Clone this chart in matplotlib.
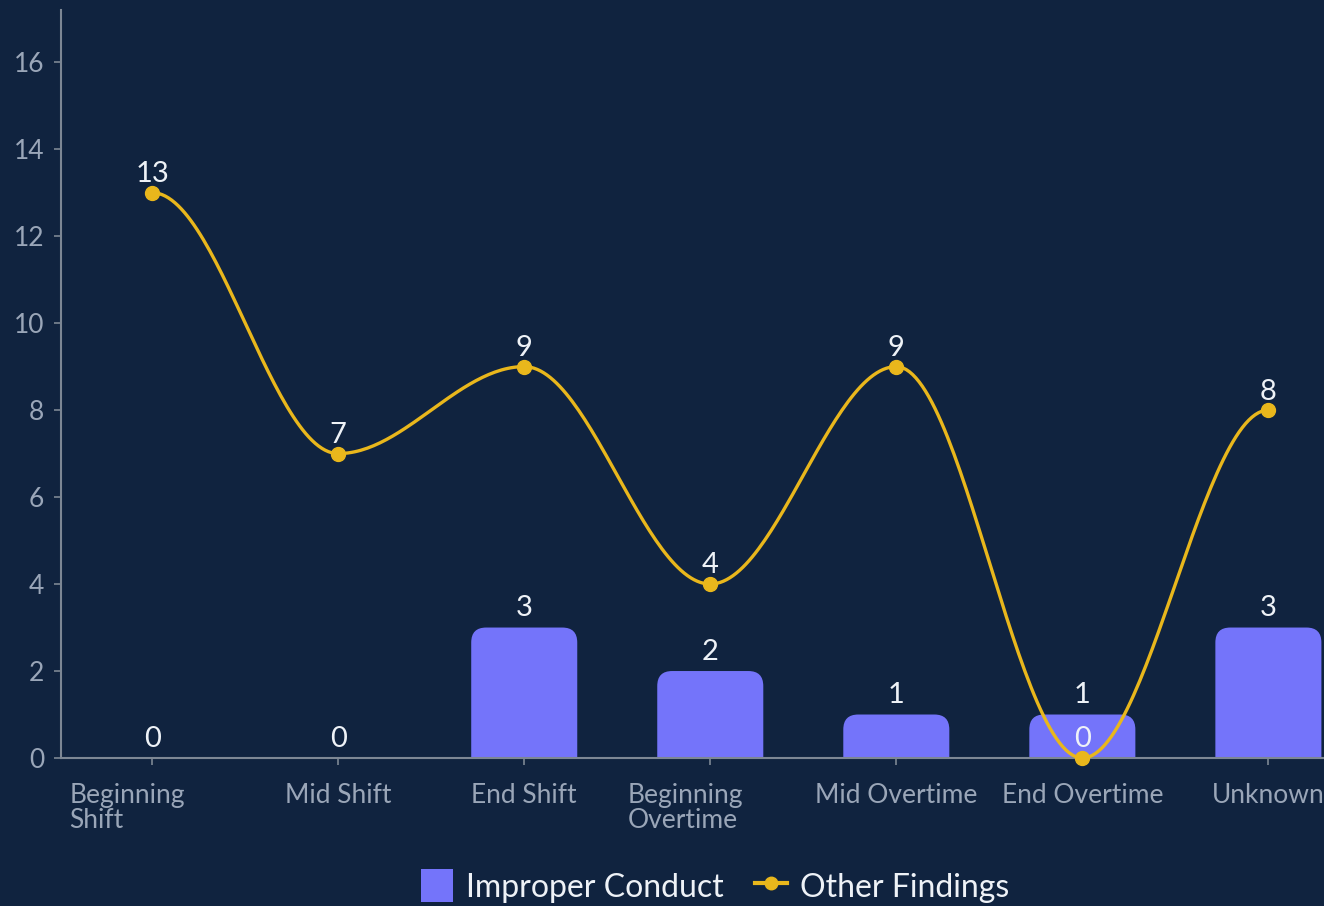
import numpy as np
import matplotlib

matplotlib.use("Agg")
import matplotlib.pyplot as plt
from matplotlib.patches import FancyBboxPatch, Patch
from matplotlib.lines import Line2D
from matplotlib.transforms import ScaledTranslation


CATEGORIES = ["Beginning\nShift", "Mid Shift", "End Shift", "Beginning\nOvertime",
              "Mid Overtime", "End Overtime", "Unknown"]
IMPROPER_CONDUCT = [0, 0, 3, 2, 1, 1, 3]
OTHER_FINDINGS = [13, 7, 9, 4, 9, 0, 8]
Y_TICKS = [0, 2, 4, 6, 8, 10, 12, 14, 16]

BG = "#10233f"
BAR_COLOR = "#7474fa"
LINE_COLOR = "#e9b71c"
AXIS_COLOR = "#7d8794"
TICK_TEXT = "#9aa6b8"
LABEL_TEXT = "#eef2f7"
FONT = "Lato"

FONT_TICKS = 19
FONT_VALUES = 21
FONT_LEGEND = 23


def smooth_path(xs, ys, steps=60):
    # cubic bezier per segment with flat tangents at every point
    out_x, out_y = [], []
    t = np.linspace(0, 1, steps)
    for i in range(len(xs) - 1):
        x0, x1 = xs[i], xs[i + 1]
        y0, y1 = ys[i], ys[i + 1]
        c = (x1 - x0) * 0.35
        px = [x0, x0 + c, x1 - c, x1]
        py = [y0, y0, y1, y1]
        b = [(1 - t) ** 3, 3 * (1 - t) ** 2 * t, 3 * (1 - t) * t ** 2, t ** 3]
        out_x.extend(sum(b[k] * px[k] for k in range(4)))
        out_y.extend(sum(b[k] * py[k] for k in range(4)))
    return np.array(out_x), np.array(out_y)


def main():
    fig = plt.figure(figsize=(13.24, 9.06), dpi=100, facecolor=BG)
    ax = fig.add_axes([61 / 1324, 148 / 906, 1319 / 1324, 748 / 906])
    ax.set_facecolor(BG)

    x = np.arange(len(CATEGORIES))
    ax.set_xlim(-0.49, 6.6)
    ax.set_ylim(0, 17.2)

    # rounded bars, bottom part hidden below the axis
    bar_w = 0.57
    r_x = 0.08
    aspect = (15 / 43.5) / r_x
    for xi, v in zip(x, IMPROPER_CONDUCT):
        if v <= 0:
            continue
        patch = FancyBboxPatch(
            (xi - bar_w / 2, -1.0), bar_w, v + 1.0,
            boxstyle=f"round,pad=0,rounding_size={r_x}",
            mutation_aspect=aspect,
            facecolor=BAR_COLOR, edgecolor="none", zorder=2,
        )
        ax.add_patch(patch)

    for xi, v in zip(x, IMPROPER_CONDUCT):
        ax.annotate(str(v), (xi, v), xytext=(0, 4.5), textcoords="offset points",
                    ha="center", va="bottom", color=LABEL_TEXT,
                    fontsize=FONT_VALUES, family=FONT, zorder=5)

    cx, cy = smooth_path(x.astype(float), np.array(OTHER_FINDINGS, dtype=float))
    ax.plot(cx, cy, color=LINE_COLOR, linewidth=2.4, zorder=3, clip_on=False)
    ax.plot(x, OTHER_FINDINGS, linestyle="none", marker="o", markersize=10,
            color=LINE_COLOR, zorder=4, clip_on=False)

    for xi, v in zip(x, OTHER_FINDINGS):
        ax.annotate(str(v), (xi, v), xytext=(0, 4), textcoords="offset points",
                    ha="center", va="bottom", color=LABEL_TEXT,
                    fontsize=FONT_VALUES, family=FONT, zorder=5)

    for side in ["top", "right"]:
        ax.spines[side].set_visible(False)
    for side in ["left", "bottom"]:
        ax.spines[side].set_color(AXIS_COLOR)
        ax.spines[side].set_linewidth(1.5)

    ax.set_yticks(Y_TICKS)
    ax.set_yticklabels([str(v) for v in Y_TICKS])
    ax.set_xticks(x)
    ax.set_xticklabels(CATEGORIES)
    ax.tick_params(axis="both", colors=AXIS_COLOR, length=5, width=1.2,
                   labelcolor=TICK_TEXT, labelsize=FONT_TICKS)
    ax.tick_params(axis="y", pad=7)
    ax.tick_params(axis="x", pad=13)
    for lab in ax.get_yticklabels() + ax.get_xticklabels():
        lab.set_family(FONT)
    for lab in ax.get_xticklabels():
        lab.set_linespacing(1.0)
        if "\n" in lab.get_text():
            lab.set_multialignment("left")
            lab.set_transform(lab.get_transform()
                              + ScaledTranslation(-0.25, 0, fig.dpi_scale_trans))

    handles = [
        Patch(facecolor=BAR_COLOR, edgecolor="none"),
        Line2D([], [], color=LINE_COLOR, linewidth=3, marker="o", markersize=9),
    ]
    fig.legend(handles, ["Improper Conduct", "Other Findings"],
               loc="center", bbox_to_anchor=(715 / 1324, 1 - 886 / 906), ncol=2,
               frameon=False, prop={"family": FONT, "size": FONT_LEGEND},
               labelcolor=LABEL_TEXT, handlelength=1.0, handleheight=1.2,
               handletextpad=0.4, columnspacing=1.0)

    fig.savefig("out.png", dpi=100, facecolor=BG)
    plt.close(fig)


if __name__ == "__main__":
    main()
